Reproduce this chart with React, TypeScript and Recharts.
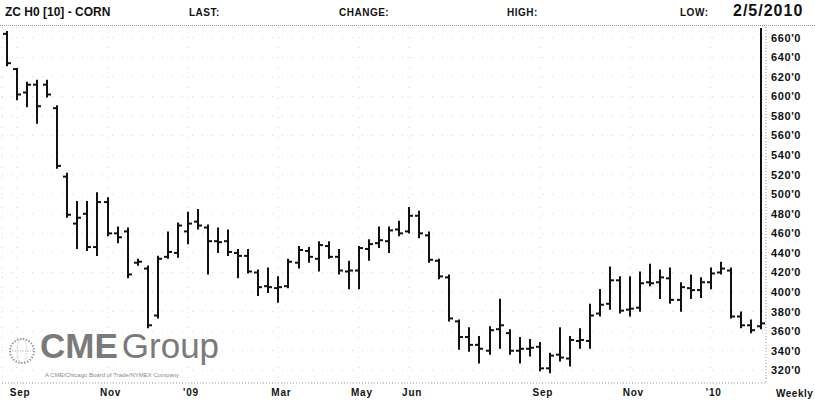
import { Bar, CartesianGrid, ComposedChart, XAxis, YAxis } from 'recharts';

const DATES = [
  '2008-08-29', '2008-09-05', '2008-09-12', '2008-09-19', '2008-09-26', '2008-10-03', '2008-10-10', '2008-10-17',
  '2008-10-24', '2008-10-31', '2008-11-07', '2008-11-14', '2008-11-21', '2008-11-28', '2008-12-05', '2008-12-12',
  '2008-12-19', '2008-12-26', '2009-01-02', '2009-01-09', '2009-01-16', '2009-01-23', '2009-01-30', '2009-02-06',
  '2009-02-13', '2009-02-20', '2009-02-27', '2009-03-06', '2009-03-13', '2009-03-20', '2009-03-27', '2009-04-03',
  '2009-04-10', '2009-04-17', '2009-04-24', '2009-05-01', '2009-05-08', '2009-05-15', '2009-05-22', '2009-05-29',
  '2009-06-05', '2009-06-12', '2009-06-19', '2009-06-26', '2009-07-03', '2009-07-10', '2009-07-17', '2009-07-24',
  '2009-07-31', '2009-08-07', '2009-08-14', '2009-08-21', '2009-08-28', '2009-09-04', '2009-09-11', '2009-09-18',
  '2009-09-25', '2009-10-02', '2009-10-09', '2009-10-16', '2009-10-23', '2009-10-30', '2009-11-06', '2009-11-13',
  '2009-11-20', '2009-11-27', '2009-12-04', '2009-12-11', '2009-12-18', '2009-12-25', '2010-01-01', '2010-01-08',
  '2010-01-15', '2010-01-22', '2010-01-29', '2010-02-05',
];

const OPENS = [
  664, 628, 604, 612, 612, 588, 518, 470, 480, 446, 492, 460, 462, 430, 424, 376, 436, 440, 462, 472,
  466, 452, 452, 440, 437, 420, 406, 404, 406, 430, 442, 434, 447, 436, 421, 422, 444, 450, 452, 464,
  462, 478, 458, 432, 415, 370, 354, 346, 340, 362, 358, 340, 342, 344, 322, 336, 332, 350, 350, 378,
  388, 412, 382, 384, 410, 410, 414, 392, 404, 402, 410, 420, 422, 375, 366, 365,
];
const HIGHS = [
  666, 628, 614, 616, 616, 590, 521, 492, 492, 501, 496, 466, 465, 433, 426, 436, 461, 470, 481, 484,
  468, 465, 463, 443, 443, 422, 424, 415, 433, 446, 445, 451, 451, 443, 431, 446, 453, 466, 466, 472,
  486, 482, 461, 433, 417, 371, 363, 354, 364, 392, 361, 353, 351, 348, 337, 363, 354, 362, 387, 402,
  425, 415, 415, 420, 428, 422, 424, 409, 417, 414, 424, 430, 424, 379, 371, 669,
];
const LOWS = [
  632, 597, 590, 573, 600, 527, 477, 445, 443, 438, 458, 451, 415, 428, 364, 374, 435, 436, 450, 465,
  419, 441, 438, 415, 420, 397, 400, 390, 405, 425, 431, 422, 435, 419, 404, 404, 433, 446, 441, 458,
  461, 456, 431, 414, 371, 342, 340, 328, 337, 343, 337, 328, 335, 320, 318, 330, 325, 343, 343, 376,
  383, 379, 376, 381, 407, 394, 389, 381, 394, 395, 404, 419, 374, 364, 359, 363,
];
const CLOSES = [
  634, 602, 612, 590, 602, 529, 479, 476, 446, 492, 460, 456, 418, 431, 366, 434, 441, 468, 470, 468,
  452, 451, 441, 437, 421, 405, 405, 405, 431, 443, 436, 448, 436, 422, 422, 445, 449, 453, 463, 460,
  478, 460, 433, 416, 373, 354, 346, 342, 361, 366, 340, 342, 343, 322, 335, 333, 351, 351, 376, 387,
  412, 381, 383, 409, 409, 415, 392, 405, 402, 410, 419, 424, 375, 366, 361, 368,
];

const PRICE_TICKS = [320, 340, 360, 380, 400, 420, 440, 460, 480, 500, 520, 540, 560, 580, 600, 620, 640, 660];
const MONTH_TICKS = ['2008-09-05', '2008-11-07', '2009-01-02', '2009-03-06', '2009-05-01', '2009-06-05', '2009-09-04', '2009-11-06', '2010-01-01'];
const MONTH_LABELS = ['Sep', 'Nov', "'09", 'Mar', 'May', 'Jun', 'Sep', 'Nov', "'10"];

const data = DATES.map((date, i) => ({
  date,
  open: OPENS[i],
  high: HIGHS[i],
  low: LOWS[i],
  close: CLOSES[i],
}));

const FONT = 'Arial, "Liberation Sans", sans-serif';

function OhlcBar(props: any) {
  const { x, y, width, height, payload } = props;
  if (!payload) return null;
  const top = Math.min(y, y + height);
  const h = Math.abs(height);
  const range = payload.high - payload.low || 1;
  const cx = Math.round(x + width / 2);
  const oy = top + ((payload.high - payload.open) / range) * h;
  const cy = top + ((payload.high - payload.close) / range) * h;
  return (
    <g stroke="#111" strokeWidth={2}>
      <line x1={cx} x2={cx} y1={top - 1} y2={top + h + 1} />
      <line x1={cx - 4} x2={cx} y1={oy} y2={oy} />
      <line x1={cx} x2={cx + 4} y1={cy} y2={cy} />
    </g>
  );
}

const headerStyle: React.CSSProperties = {
  position: 'absolute',
  fontFamily: FONT,
  fontWeight: 700,
  color: '#111',
  whiteSpace: 'nowrap',
};

export default function App() {
  return (
    <div style={{ position: 'absolute', left: 0, top: 0, width: 815, height: 403, background: '#fff', overflow: 'hidden' }}>
      <div style={{ ...headerStyle, left: 5, top: 5, fontSize: 12 }}>ZC H0 [10] - CORN</div>
      <div style={{ ...headerStyle, left: 189, top: 7, fontSize: 10, letterSpacing: 0.5 }}>LAST:</div>
      <div style={{ ...headerStyle, left: 339, top: 7, fontSize: 10, letterSpacing: 0.5 }}>CHANGE:</div>
      <div style={{ ...headerStyle, left: 507, top: 7, fontSize: 10, letterSpacing: 0.5 }}>HIGH:</div>
      <div style={{ ...headerStyle, left: 680, top: 7, fontSize: 10, letterSpacing: 0.5 }}>LOW:</div>
      <div style={{ ...headerStyle, left: 733, top: 2, fontSize: 16, letterSpacing: 1 }}>2/5/2010</div>
      <div style={{ position: 'absolute', left: 0, top: 25, width: 815, borderTop: '1px dotted #999' }} />

      <ComposedChart
        width={815}
        height={403}
        data={data}
        margin={{ top: 27, right: 0, bottom: 0, left: 2 }}
        barCategoryGap={0}
        style={{ position: 'absolute', left: 0, top: 0 }}
      >
        <CartesianGrid stroke="#d4d4d4" strokeDasharray="1 9" />
        <XAxis
          dataKey="date"
          ticks={MONTH_TICKS}
          interval={0}
          height={20}
          tickSize={0}
          tickMargin={6}
          axisLine={{ stroke: '#999', strokeDasharray: '1 2' }}
          tickFormatter={(v: string) => MONTH_LABELS[MONTH_TICKS.indexOf(v)] ?? ''}
          tick={{ fill: '#111', fontSize: 10, fontWeight: 700, fontFamily: FONT, dx: 3, letterSpacing: 0.8 }}
        />
        <YAxis
          orientation="right"
          width={49}
          domain={[307, 671]}
          ticks={PRICE_TICKS}
          interval={0}
          allowDataOverflow
          tickSize={0}
          tickMargin={5}
          axisLine={{ stroke: '#999', strokeDasharray: '1 2' }}
          tickFormatter={(v: number) => `${v}'0`}
          tick={{ fill: '#111', fontSize: 11, fontWeight: 700, fontFamily: FONT, letterSpacing: 0.6 }}
        />
        <Bar
          dataKey={(d: any) => [d.low, d.high]}
          shape={OhlcBar}
          isAnimationActive={false}
        />
      </ComposedChart>

      <div style={{ ...headerStyle, left: 776, top: 388, fontSize: 10, letterSpacing: 0.5 }}>Weekly</div>

      <svg style={{ position: 'absolute', left: 8, top: 337 }} width={28} height={28}>
        <circle cx={14} cy={14} r={12} fill="none" stroke="#999" strokeWidth={2} strokeDasharray="1.5 1.5" />
        <ellipse cx={14} cy={14} rx={5} ry={12} fill="none" stroke="#aaa" strokeWidth={1} strokeDasharray="1 1.5" />
        <line x1={2} x2={26} y1={14} y2={14} stroke="#aaa" strokeDasharray="1 1.5" />
      </svg>
      <div style={{ position: 'absolute', left: 40, top: 326, fontFamily: FONT, fontSize: 35, color: '#7a7a7a', whiteSpace: 'nowrap' }}>
        <span style={{ fontWeight: 700 }}>CME</span>
        <span style={{ fontWeight: 400, marginLeft: 4 }}>Group</span>
      </div>
      <div style={{ position: 'absolute', left: 45, top: 372, fontFamily: FONT, fontSize: 6, color: '#888', whiteSpace: 'nowrap' }}>
        A CME/Chicago Board of Trade/NYMEX Company
      </div>
    </div>
  );
}
